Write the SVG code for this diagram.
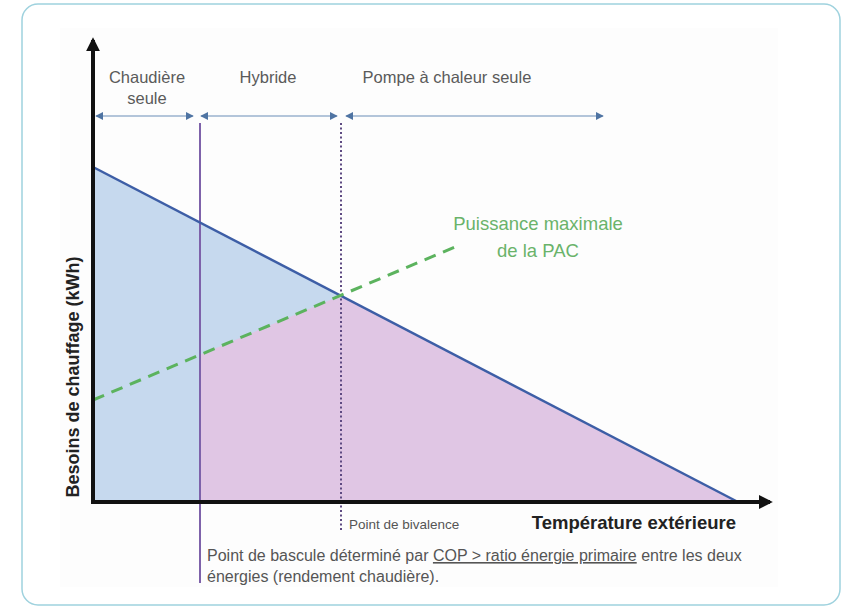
<svg xmlns="http://www.w3.org/2000/svg" width="849" height="607" viewBox="0 0 849 607">
<style>
.lbl{font-family:"Liberation Sans",Arial,sans-serif;fill:#5a5a5a;font-size:16.5px}
.small{font-family:"Liberation Sans",Arial,sans-serif;fill:#555;font-size:13.5px}
.note{font-family:"Liberation Sans",Arial,sans-serif;fill:#555;font-size:16px}
.bold{font-family:"Liberation Sans",Arial,sans-serif;fill:#222;font-size:18.5px;font-weight:bold}
.pac{font-family:"Liberation Sans",Arial,sans-serif;fill:#6ab36a;font-size:18.5px}
.zone{stroke:#b3c5da;stroke-width:2;fill:none;marker-start:url(#ah);marker-end:url(#ah)}
</style>
<defs>
<marker id="ah" viewBox="0 0 10 10" refX="9" refY="5" markerWidth="4" markerHeight="4" orient="auto-start-reverse" markerUnits="strokeWidth">
<path d="M0,0 L10,5 L0,10 Z" fill="#4f74a3"/>
</marker>
<marker id="ax" viewBox="0 0 10 10" refX="8" refY="5" markerWidth="3.5" markerHeight="3.5" orient="auto" markerUnits="strokeWidth">
<path d="M0,0 L10,5 L0,10 Z" fill="#111"/>
</marker>
</defs>
<rect x="0" y="0" width="849" height="607" fill="#fff"/>
<rect id="card" x="22" y="4" width="818" height="601" rx="16" fill="#fff" stroke="#9fd2de" stroke-width="1.5"/>
<rect x="60" y="28" width="718" height="559" fill="#fdfdfd"/>
<g id="areas">
<polygon points="93,167 738,502 93,502" fill="#c6d9ee"/>
<polygon points="200,354.7 341,295.5 738,502 200,502" fill="#e0c6e4"/>
</g>
<g id="connectors">
<line x1="200" y1="123" x2="200" y2="583" stroke="#7e62aa" stroke-width="2"/>
<line x1="341" y1="123" x2="341" y2="532" stroke="#5e4a82" stroke-width="2" stroke-dasharray="2,2.5"/>
<line x1="93" y1="167" x2="738" y2="502" stroke="#3d5ea6" stroke-width="2.5"/>
<line x1="93" y1="400" x2="455" y2="247" stroke="#5cb35e" stroke-width="3" stroke-dasharray="12,8"/>
<line class="zone" x1="96" y1="116" x2="193" y2="116"/>
<line class="zone" x1="201" y1="116" x2="337" y2="116"/>
<line class="zone" x1="346" y1="116" x2="603" y2="116"/>
<line x1="93" y1="504" x2="93" y2="40" stroke="#111" stroke-width="4" marker-end="url(#ax)"/>
<line x1="91" y1="502" x2="770" y2="502" stroke="#111" stroke-width="4" marker-end="url(#ax)"/>
</g>
<g id="zone-labels">
<text class="lbl" x="147" y="83" text-anchor="middle">Chaudière</text>
<text class="lbl" x="147" y="104" text-anchor="middle">seule</text>
<text class="lbl" x="268" y="83" text-anchor="middle">Hybride</text>
<text class="lbl" x="447" y="83" text-anchor="middle">Pompe à chaleur seule</text>
</g>
<g id="pac-label">
<text class="pac" x="538" y="230" text-anchor="middle">Puissance maximale</text>
<text class="pac" x="538" y="257" text-anchor="middle">de la PAC</text>
</g>
<g id="axis-labels">
<text class="bold" transform="translate(79,377) rotate(-90)" text-anchor="middle" style="font-size:18px">Besoins de chauffage (kWh)</text>
<text class="bold" x="736" y="529" text-anchor="end">Température extérieure</text>
</g>
<g id="notes">
<text class="small" x="349" y="529">Point de bivalence</text>
<text class="note" x="207" y="561">Point de bascule déterminé par <tspan text-decoration="underline">COP &gt; ratio énergie primaire</tspan> entre les deux</text>
<text class="note" x="207" y="582">énergies (rendement chaudière).</text>
</g>
</svg>
